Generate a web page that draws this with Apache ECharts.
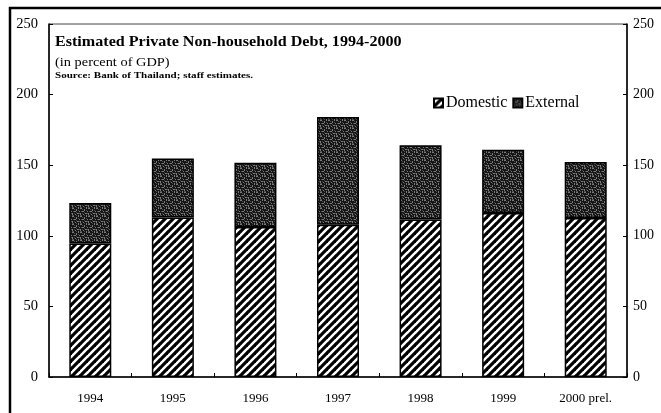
<!DOCTYPE html>
<html>
<head>
<meta charset="utf-8">
<script src="https://cdn.jsdelivr.net/npm/echarts@6/dist/echarts.min.js"></script>
<style>
  html, body { margin: 0; padding: 0; background: #fff; }
  #chart { width: 661px; height: 413px; }
</style>
</head>
<body>
<div id="chart"></div>
<script>
// Private non-household debt, percent of GDP
const years = ['1994', '1995', '1996', '1997', '1998', '1999', '2000 prel.'];
const domestic = [94.5, 112.9, 106.2, 107.9, 111.5, 116.1, 112.6];
const external = [28.7, 41.8, 45.6, 76.2, 52.6, 44.9, 39.7];
const yTicks = [0, 50, 100, 150, 200, 250];

// Diagonal black hatching for the domestic part
function hatchPattern() {
  const c = document.createElement('canvas');
  c.width = 8; c.height = 8;
  const g = c.getContext('2d');
  g.fillStyle = '#fff';
  g.fillRect(0, 0, 8, 8);
  g.strokeStyle = '#000';
  g.lineWidth = 3.2;
  for (let k = -1; k <= 1; k++) {
    g.beginPath();
    g.moveTo(k * 8 - 1, 9);
    g.lineTo(k * 8 + 9, -1);
    g.stroke();
  }
  return c;
}

// Dark mottled fill for the external part
function speckPattern() {
  const c = document.createElement('canvas');
  c.width = 8; c.height = 8;
  const g = c.getContext('2d');
  g.fillStyle = '#141414';
  g.fillRect(0, 0, 8, 8);
  g.fillStyle = '#7c7c7c';
  [[0,0,2,1],[4,1,1,2],[6,0,1,1],[2,3,2,1],[7,3,1,1],[0,5,1,2],[5,5,2,1],[3,6,1,1],[6,7,1,1]]
    .forEach(d => g.fillRect(d[0], d[1], d[2], d[3]));
  g.fillStyle = '#4a4a4a';
  [[2,1,1,1],[6,2,1,1],[1,3,1,1],[4,4,1,1],[2,5,1,1],[7,5,1,1],[0,7,2,1],[4,7,1,1]]
    .forEach(d => g.fillRect(d[0], d[1], d[2], d[3]));
  return c;
}

const hatch = hatchPattern();
const speck = speckPattern();

const chart = echarts.init(document.getElementById('chart'), null, { renderer: 'canvas' });
const font = '"Liberation Serif", "Times New Roman", serif';

const yAxisBase = {
  type: 'value',
  min: 0,
  max: 250,
  interval: 50,
  axisLine: { show: true, lineStyle: { color: '#000', width: 1.5 } },
  axisTick: { show: true, inside: true, length: 4, lineStyle: { color: '#000' } },
  splitLine: { show: false },
  axisLabel: { color: '#000', fontFamily: font, fontSize: 13, formatter: v => yTicks.includes(v) ? String(v) : '' }
};

// Heading lines, drawn slightly widened like the typeset original
function heading(text, y, size, weight, sx) {
  return {
    type: 'text', x: 55, y: y, scaleX: sx, silent: true,
    style: { text: text, fontFamily: font, fontSize: size, fontWeight: weight, fill: '#000', textVerticalAlign: 'middle' }
  };
}

chart.setOption({
  animation: false,
  backgroundColor: '#fff',
  textStyle: { fontFamily: font },
  grid: {
    left: 49, right: 34, top: 24, bottom: 36,
    show: true, borderColor: '#444', borderWidth: 1
  },
  legend: {
    left: 428, top: 90,
    itemWidth: 9, itemHeight: 9, itemGap: 5,
    icon: 'rect',
    textStyle: { fontFamily: font, fontSize: 16, color: '#000', padding: [0, 0, 0, -2] },
    data: ['Domestic', 'External']
  },
  xAxis: {
    type: 'category',
    data: years,
    axisLine: { lineStyle: { color: '#000', width: 1.5 } },
    axisTick: { show: true, inside: true, length: 4, lineStyle: { color: '#000' } },
    axisLabel: { color: '#000', fontFamily: font, fontSize: 13, margin: 15 }
  },
  yAxis: [
    Object.assign({}, yAxisBase, { position: 'left', axisLabel: Object.assign({}, yAxisBase.axisLabel, { margin: 11, fontSize: 14.5 }) }),
    Object.assign({}, yAxisBase, { position: 'right', axisLabel: Object.assign({}, yAxisBase.axisLabel, { margin: 6, fontSize: 14 }) })
  ],
  series: [
    {
      name: 'Domestic',
      type: 'bar',
      stack: 'debt',
      barWidth: 42,
      data: domestic,
      itemStyle: { color: { image: hatch, repeat: 'repeat' }, borderColor: '#000', borderWidth: 1.5 }
    },
    {
      name: 'External',
      type: 'bar',
      stack: 'debt',
      barWidth: 42,
      data: external,
      itemStyle: { color: { image: speck, repeat: 'repeat' }, borderColor: '#000', borderWidth: 1.5 }
    }
  ],
  graphic: [
    {
      type: 'polyline',
      shape: { points: [[10, 413], [10, 8], [661, 8]] },
      style: { stroke: '#000', lineWidth: 2.5, fill: null },
      silent: true
    },
    heading('Estimated Private Non-household Debt, 1994-2000', 42, 14, 'bold', 1.15),
    heading('(in percent of GDP)', 63, 12.5, 'normal', 1.15),
    heading('Source: Bank of Thailand; staff estimates.', 76, 8.5, 'bold', 1.3)
  ]
});
</script>
</body>
</html>
